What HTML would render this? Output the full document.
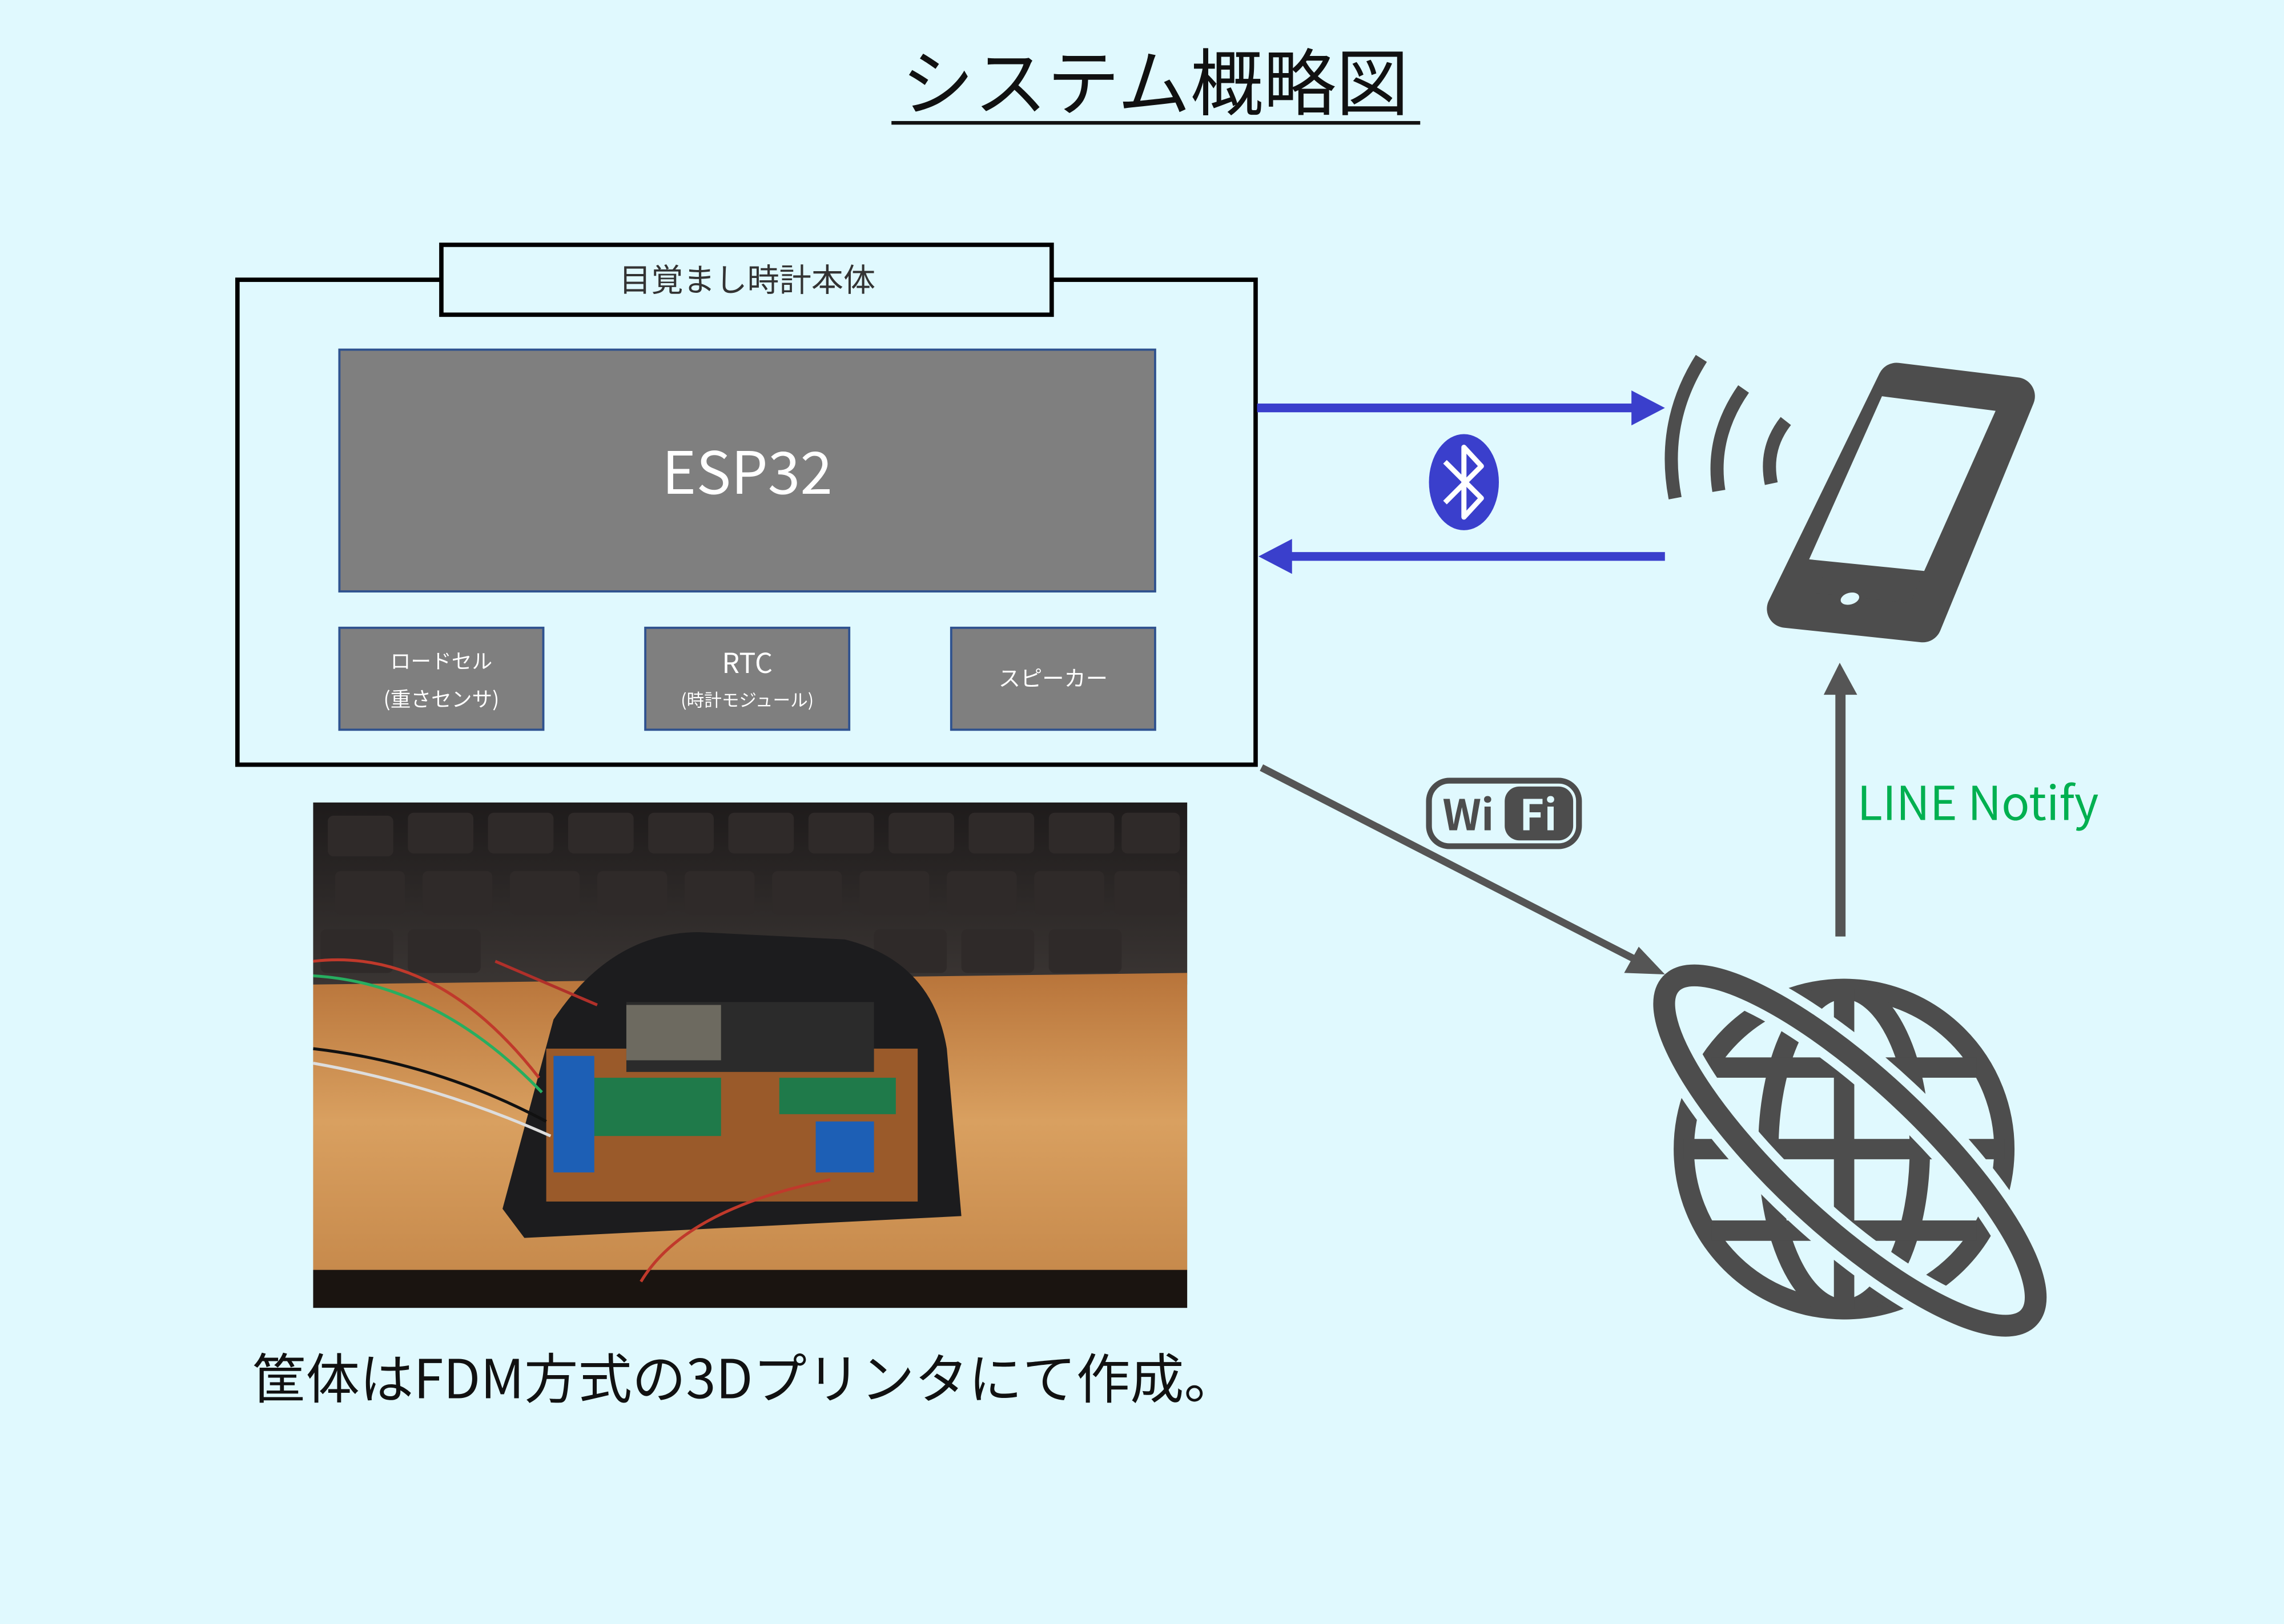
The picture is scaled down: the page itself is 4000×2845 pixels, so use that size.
<!DOCTYPE html>
<html><head><meta charset="utf-8"><style>
html,body{margin:0;padding:0;background:#e0f9fe;}
svg{display:block}
text{font-family:"Noto Sans CJK JP","Liberation Sans",sans-serif;}
.jp{font-family:"Noto Sans CJK JP","Liberation Sans",sans-serif;}
</style></head><body>
<svg width="4000" height="2845" viewBox="0 0 1568 1115" xmlns="http://www.w3.org/2000/svg">
<rect width="1568" height="1115" fill="#e0f9fe"/>
<text class="jp" x="793" y="75" font-size="50" text-anchor="middle" fill="#111">システム概略図</text>
<rect x="612" y="83" width="363" height="2.5" fill="#111"/>
<rect x="163" y="192" width="699" height="333" fill="none" stroke="#000" stroke-width="3"/>
<rect x="303" y="168" width="419" height="48" fill="#e0f9fe" stroke="#000" stroke-width="3"/>
<text class="jp" x="513" y="200" font-size="22" text-anchor="middle" fill="#333">目覚まし時計本体</text>
<rect x="233" y="240" width="560" height="166" fill="#7f7f7f" stroke="#2f528f" stroke-width="1.5"/>
<text x="513" y="339" font-size="40" text-anchor="middle" fill="#fff">ESP32</text>
<rect x="233" y="431" width="140" height="70" fill="#7f7f7f" stroke="#2f528f" stroke-width="1.5"/>
<text class="jp" x="303" y="459" font-size="14" text-anchor="middle" fill="#fff">ロードセル</text>
<text class="jp" x="303" y="485" font-size="14" text-anchor="middle" fill="#fff">(重さセンサ)</text>
<rect x="443" y="431" width="140" height="70" fill="#7f7f7f" stroke="#2f528f" stroke-width="1.5"/>
<text x="513" y="462" font-size="19" text-anchor="middle" fill="#fff">RTC</text>
<text class="jp" x="513" y="485" font-size="12" text-anchor="middle" fill="#fff">(時計モジュール)</text>
<rect x="653" y="431" width="140" height="70" fill="#7f7f7f" stroke="#2f528f" stroke-width="1.5"/>
<text class="jp" x="723" y="471" font-size="15" text-anchor="middle" fill="#fff">スピーカー</text>
<rect x="863" y="277" width="260" height="6" fill="#3a3fcc"/>
<polygon points="1120,268 1143,280 1120,292" fill="#3a3fcc"/>
<rect x="884" y="379" width="259" height="6" fill="#3a3fcc"/>
<polygon points="887,370 864,382 887,394" fill="#3a3fcc"/>
<ellipse cx="1005" cy="331" rx="24" ry="33" fill="#3a3fcc"/>
<polyline points="992,317 1017,342 1005,355 1005,307 1017,320 992,345" fill="none" stroke="#fff" stroke-width="3.5" stroke-linejoin="round"/>
<g fill="none" stroke="#4d4d4d" stroke-width="9">
<path d="M1168,246 Q1140,290 1150,342"/>
<path d="M1197,267 Q1174,300 1180,337"/>
<path d="M1226,289 Q1211,308 1216,332"/>
</g>
<polygon points="1302,262 1384,272 1320,428 1226,418" fill="#4d4d4d" stroke="#4d4d4d" stroke-width="26" stroke-linejoin="round"/>
<polygon points="1292,272 1370,282 1321,392 1242,384" fill="#e0f9fe"/>
<ellipse cx="1270" cy="411" rx="6.5" ry="4" transform="rotate(-15 1270 411)" fill="#e0f9fe"/>
<rect x="981" y="536" width="103" height="45" rx="14" fill="#e0f9fe" stroke="#4d4d4d" stroke-width="4"/>
<text x="1008" y="570" font-size="29" font-weight="bold" text-anchor="middle" fill="#4d4d4d">Wi</text>
<rect x="1033" y="540" width="47" height="37" rx="10" fill="#4d4d4d"/>
<text x="1056" y="570" font-size="29" font-weight="bold" text-anchor="middle" fill="#e0f9fe">Fi</text>
<rect x="1260" y="475" width="7" height="168" fill="#555"/>
<polygon points="1263,455 1252,477 1275,477" fill="#555"/>
<text x="1275" y="563" font-size="32" fill="#00b050">LINE Notify</text>
<g fill="none" stroke="#4d4d4d" stroke-width="14">
<circle cx="1266" cy="789" r="110"/>
<ellipse cx="1266" cy="789" rx="52" ry="110"/>
<line x1="1266" y1="679" x2="1266" y2="899"/>
<line x1="1156" y1="789" x2="1376" y2="789"/>
<line x1="1175" y1="733" x2="1357" y2="733"/>
<line x1="1175" y1="845" x2="1357" y2="845"/>
</g>
<ellipse cx="1270" cy="790" rx="168" ry="50" transform="rotate(43 1270 790)" fill="none" stroke="#e0f9fe" stroke-width="28"/>
<ellipse cx="1270" cy="790" rx="168" ry="50" transform="rotate(43 1270 790)" fill="none" stroke="#4d4d4d" stroke-width="15"/>
<line x1="866" y1="527" x2="1125" y2="660" stroke="#555" stroke-width="5"/>
<polygon points="1143,669 1115,668 1125,650" fill="#555"/>
<defs>
<linearGradient id="wood" x1="0" y1="0" x2="0" y2="1">
<stop offset="0" stop-color="#b8743a"/><stop offset="0.5" stop-color="#d9a060"/><stop offset="1" stop-color="#c78a4c"/>
</linearGradient>
<linearGradient id="kb" x1="0" y1="0" x2="0" y2="1">
<stop offset="0" stop-color="#1e1b1b"/><stop offset="1" stop-color="#3a3533"/>
</linearGradient>
</defs>
<rect x="215" y="551" width="600" height="347" fill="#1a1616"/>
<rect x="215" y="551" width="600" height="125" fill="url(#kb)"/>
<g fill="#2f2a29">
<rect x="225" y="560" width="45" height="28" rx="4"/><rect x="280" y="558" width="45" height="28" rx="4"/><rect x="335" y="558" width="45" height="28" rx="4"/><rect x="390" y="558" width="45" height="28" rx="4"/><rect x="445" y="558" width="45" height="28" rx="4"/><rect x="500" y="558" width="45" height="28" rx="4"/><rect x="555" y="558" width="45" height="28" rx="4"/><rect x="610" y="558" width="45" height="28" rx="4"/><rect x="665" y="558" width="45" height="28" rx="4"/><rect x="720" y="558" width="45" height="28" rx="4"/><rect x="770" y="558" width="40" height="28" rx="4"/>
<rect x="230" y="598" width="48" height="30" rx="4"/><rect x="290" y="598" width="48" height="30" rx="4"/><rect x="350" y="598" width="48" height="30" rx="4"/><rect x="410" y="598" width="48" height="30" rx="4"/><rect x="470" y="598" width="48" height="30" rx="4"/><rect x="530" y="598" width="48" height="30" rx="4"/><rect x="590" y="598" width="48" height="30" rx="4"/><rect x="650" y="598" width="48" height="30" rx="4"/><rect x="710" y="598" width="48" height="30" rx="4"/><rect x="765" y="598" width="45" height="30" rx="4"/>
<rect x="220" y="638" width="50" height="30" rx="4"/><rect x="280" y="638" width="50" height="30" rx="4"/><rect x="600" y="638" width="50" height="30" rx="4"/><rect x="660" y="638" width="50" height="30" rx="4"/><rect x="720" y="638" width="50" height="30" rx="4"/>
</g>
<polygon points="215,676 815,668 815,872 215,872" fill="url(#wood)"/>
<rect x="215" y="872" width="600" height="26" fill="#1a1410"/>
<path d="M380,700 Q420,640 480,640 L580,645 Q640,660 650,720 L660,835 L360,850 L345,830 Z" fill="#1c1c1e"/>
<rect x="375" y="720" width="255" height="105" fill="#9a5a2a"/>
<rect x="430" y="688" width="170" height="48" fill="#2b2b2b"/>
<rect x="430" y="690" width="65" height="38" fill="#6d6a60"/>
<rect x="405" y="740" width="90" height="40" fill="#1f7a4a"/>
<rect x="535" y="740" width="80" height="25" fill="#1f7a4a"/>
<rect x="380" y="725" width="28" height="80" fill="#1d5fb5"/>
<rect x="560" y="770" width="40" height="35" fill="#1d5fb5"/>
<g fill="none" stroke-width="2">
<path d="M215,660 Q300,650 370,740" stroke="#c0392b"/>
<path d="M215,670 Q300,675 372,750" stroke="#27ae60"/>
<path d="M215,720 Q300,730 375,770" stroke="#111"/>
<path d="M215,730 Q300,745 378,780" stroke="#ddd"/>
<path d="M440,880 Q470,830 570,810" stroke="#c0392b"/>
<path d="M340,660 L410,690" stroke="#b0302a"/>
</g>
<text class="jp" x="173" y="960" font-size="37" fill="#111">筐体はFDM方式の3Dプリンタにて作成。</text>
</svg>
</body></html>
